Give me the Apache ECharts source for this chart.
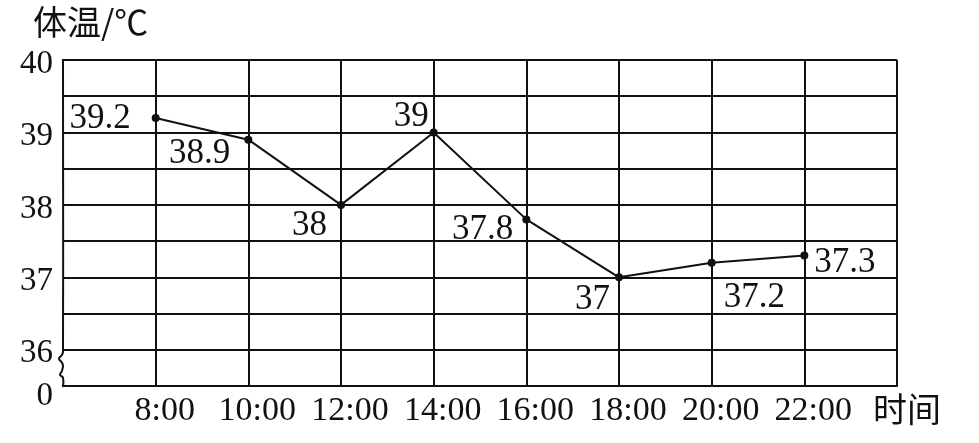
<!DOCTYPE html>
<html>
<head>
<meta charset="utf-8">
<script src="https://cdn.jsdelivr.net/npm/echarts@6/dist/echarts.min.js"></script>
<style>
html,body{margin:0;padding:0;background:#fff;}
#c{width:979px;height:443px;}
</style>
</head>
<body>
<div id="c"></div>
<script>
// ---- data ----
const times = ['8:00', '10:00', '12:00', '14:00', '16:00', '18:00', '20:00', '22:00'];
const temps = [39.2, 38.9, 38, 39, 37.8, 37, 37.2, 37.3];
const yTickLabels = ['0', '36', '37', '38', '39', '40'];
const yAxisTitle = '体温/℃';
const xAxisTitle = '时间';

// ---- build ----
const serif = '"Liberation Serif", "Times New Roman", serif';
const cjk = '"Noto Sans CJK SC", sans-serif';
const ink = '#111';

const cats = [''].concat(times, ['']);
const seriesData = [null].concat(temps, [null]);

// label placement per point (style only)
const labelPlace = [
  {position: 'left', offset: [-16, 1]},
  {position: 'left', offset: [-9, 14]},
  {position: 'left', offset: [-5, 21]},
  {position: 'left', offset: [4, -16]},
  {position: 'left', offset: [-4, 10]},
  {position: 'left', offset: [0, 22]},
  {position: 'right', offset: [3, 35]},
  {position: 'right', offset: [1, 7]}
];

const data = seriesData.map((v, i) => {
  if (v === null) return null;
  const p = labelPlace[i - 1];
  return {value: v, label: {show: true, position: p.position, offset: p.offset, formatter: String(v)}};
});

function yFmt(v) {
  const r = Math.round(v * 10) / 10;
  if (r === 35.5) return '{z|' + yTickLabels[0] + '}';
  if (Number.isInteger(r)) {
    const idx = r - 35;
    return '{n|' + yTickLabels[idx] + '}';
  }
  return '';
}

const chart = echarts.init(document.getElementById('c'), null, {renderer: 'canvas'});
const option = {
  backgroundColor: '#fff',
  animation: false,
  title: {
    text: yAxisTitle,
    left: 28, top: 0,
    textStyle: {fontFamily: cjk, fontSize: 34, fontWeight: 'normal', color: ink}
  },
  grid: {left: 63, right: 82, top: 60, bottom: 57, containLabel: false},
  xAxis: {
    type: 'category',
    data: cats,
    boundaryGap: false,
    name: xAxisTitle,
    nameLocation: 'end',
    nameGap: -24,
    nameTextStyle: {fontFamily: cjk, fontSize: 34, color: ink, align: 'left', verticalAlign: 'top', padding: [6, 0, 0, 0]},
    axisLine: {show: true, lineStyle: {color: ink, width: 2}},
    axisTick: {show: false},
    axisLabel: {
      interval: 0, margin: 8,
      fontFamily: serif, fontSize: 34, color: ink,
      padding: [0, 0, 0, 18]
    },
    splitLine: {
      show: true,
      interval: function (i) { return i !== 0; },
      lineStyle: {color: ink, width: 2}
    }
  },
  yAxis: {
    type: 'value',
    min: 35.5, max: 40, interval: 0.5,
    axisLine: {show: false},
    axisTick: {show: false},
    axisLabel: {
      margin: 10,
      formatter: yFmt,
      rich: {
        n: {fontFamily: serif, fontSize: 33, color: ink, padding: [8, 0, 0, 0]},
        z: {fontFamily: serif, fontSize: 33, color: ink, padding: [20, 0, 0, 0]}
      }
    },
    splitLine: {show: true, lineStyle: {color: ink, width: 2}}
  },
  series: [{
    type: 'line',
    data: data,
    connectNulls: false,
    symbol: 'circle',
    symbolSize: 8,
    itemStyle: {color: ink},
    lineStyle: {color: ink, width: 2},
    label: {fontFamily: serif, fontSize: 35, color: ink, distance: 5}
  }]
};
chart.setOption(option);

// left axis line with break mark
const pTop = chart.convertToPixel({gridIndex: 0}, [0, 40]);
const p36 = chart.convertToPixel({gridIndex: 0}, [0, 36]);
const pBot = chart.convertToPixel({gridIndex: 0}, [0, 35.5]);
const x0 = pTop[0];
const b = p36[1];
chart.setOption({
  graphic: [{
    type: 'polyline',
    shape: {
      points: [
        [x0, pTop[1] - 1], [x0, b + 2], [x0 - 1, b + 5], [x0 - 4, b + 9],
        [x0 - 1, b + 13], [x0, b + 16], [x0 - 1, b + 21], [x0 - 3, b + 25],
        [x0, b + 28], [x0, pBot[1] + 1]
      ],
      smooth: 0.4
    },
    style: {stroke: ink, lineWidth: 2, fill: null}
  }]
});
</script>
</body>
</html>
